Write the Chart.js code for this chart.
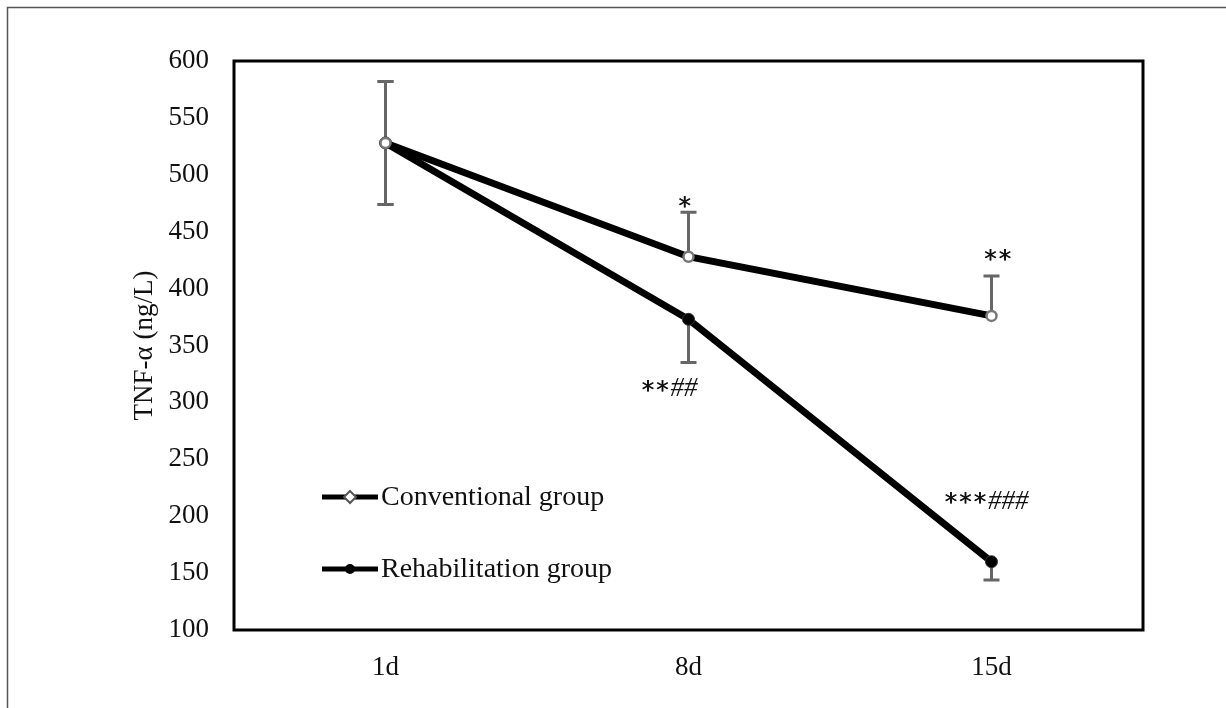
<!DOCTYPE html>
<html>
<head>
<meta charset="utf-8">
<script src="https://cdn.jsdelivr.net/npm/chart.js@4.4.0/dist/chart.umd.min.js"></script>
<style>
  html, body { margin: 0; background: #fff; }
</style>
</head>
<body>
<canvas id="chart" width="1226" height="708"></canvas>
<script>
const days = ['1d', '8d', '15d'];
const yTicks = [100, 150, 200, 250, 300, 350, 400, 450, 500, 550, 600];

const conventional = [528, 428, 376];
const rehabilitation = [528, 373, 160];
const conventionalErr = [54, 39, 35];
const rehabilitationErr = [54, 38, 16];
const conventionalErrDir = ['both', 'up', 'up'];
const rehabilitationErrDir = ['both', 'down', 'down'];
const conventionalMarks = ['', '*', '**'];
const rehabilitationMarks = ['', '**##', '***###'];
const seriesNames = ['Conventional group', 'Rehabilitation group'];

const FONT = '"Liberation Serif", "Times New Roman", serif';

// pixel offsets of the significance marks, relative to the point
const markOffsets = [
  [null, { dx: -4, dy: -51 }, { dx: 6, dy: -57 }],
  [null, { dx: -20, dy: 70 }, { dx: -6, dy: -60 }],
];

const frame = {
  id: 'frame',
  beforeDraw(chart) {
    const c = chart.ctx;
    c.save();
    c.fillStyle = '#fff';
    c.fillRect(0, 0, chart.width, chart.height);
    c.strokeStyle = '#555';
    c.lineWidth = 1.5;
    c.beginPath();
    c.moveTo(7.5, chart.height);
    c.lineTo(7.5, 7.5);
    c.lineTo(chart.width, 7.5);
    c.stroke();
    c.restore();
  },
  afterDraw(chart) {
    const { left, top, right, bottom } = chart.chartArea;
    const c = chart.ctx;
    c.save();
    c.strokeStyle = '#000';
    c.lineWidth = 3;
    c.strokeRect(left, top, right - left, bottom - top);
    c.restore();
  }
};

// draws "***###": asterisks in a sans face, hashes in slanted serif
function drawMark(c, text, cx, cy) {
  const nStars = (text.match(/\*/g) || []).length;
  const hashes = text.replace(/\*/g, '');
  const starPitch = 14.5;
  const starFont = '25px "DejaVu Sans", sans-serif';
  const hashFont = 'italic 27px ' + FONT;
  c.font = hashFont;
  const wh = hashes ? c.measureText(hashes).width : 0;
  const ws = nStars * starPitch;
  let x = cx - (ws + wh) / 2;
  c.textAlign = 'center';
  c.textBaseline = 'middle';
  c.font = starFont;
  for (let i = 0; i < nStars; i++) {
    c.fillText('*', x + starPitch / 2, cy + 2);
    c.fillText('*', x + starPitch / 2 + 0.4, cy + 2);
    x += starPitch;
  }
  if (hashes) {
    c.textAlign = 'left';
    c.font = hashFont;
    c.fillText(hashes, x + 1, cy);
  }
}

const errorBars = {
  id: 'errorBars',
  beforeDatasetsDraw(chart) {
    const c = chart.ctx;
    const x = chart.scales.x, y = chart.scales.y;
    const sets = [
      [conventional, conventionalErr, conventionalErrDir],
      [rehabilitation, rehabilitationErr, rehabilitationErrDir],
    ];
    c.save();
    c.strokeStyle = '#666';
    c.lineWidth = 3;
    sets.forEach(([vals, errs, dirs]) => {
      vals.forEach((v, i) => {
        const px = x.getPixelForValue(i);
        const hi = dirs[i] === 'down' ? v : v + errs[i];
        const lo = dirs[i] === 'up' ? v : v - errs[i];
        const yh = y.getPixelForValue(hi), yl = y.getPixelForValue(lo);
        c.beginPath();
        c.moveTo(px, yh); c.lineTo(px, yl);
        if (dirs[i] !== 'down') { c.moveTo(px - 8, yh); c.lineTo(px + 8, yh); }
        if (dirs[i] !== 'up') { c.moveTo(px - 8, yl); c.lineTo(px + 8, yl); }
        c.stroke();
      });
    });
    c.restore();
  },
  afterDatasetsDraw(chart) {
    const c = chart.ctx;
    const x = chart.scales.x, y = chart.scales.y;
    c.save();
    c.fillStyle = '#111';
    [[conventional, conventionalMarks], [rehabilitation, rehabilitationMarks]].forEach(([vals, marks], s) => {
      marks.forEach((m, i) => {
        if (!m) return;
        const o = markOffsets[s][i];
        drawMark(c, m, x.getPixelForValue(i) + o.dx, y.getPixelForValue(vals[i]) + o.dy);
      });
    });

    // legend inside plot area
    const { left, top } = chart.chartArea;
    const rows = [top + 436, top + 508];
    c.font = '28px ' + FONT;
    c.textAlign = 'left';
    c.textBaseline = 'middle';
    rows.forEach((ry, k) => {
      const lx = left + 88;
      c.strokeStyle = '#000';
      c.lineWidth = 5;
      c.beginPath();
      c.moveTo(lx, ry); c.lineTo(lx + 56, ry);
      c.stroke();
      const mx = lx + 28;
      if (k === 0) {
        c.fillStyle = '#fff';
        c.strokeStyle = '#555';
        c.lineWidth = 2;
        c.beginPath();
        c.moveTo(mx, ry - 6); c.lineTo(mx + 6, ry); c.lineTo(mx, ry + 6); c.lineTo(mx - 6, ry);
        c.closePath();
        c.fill(); c.stroke();
      } else {
        c.fillStyle = '#000';
        c.beginPath();
        c.arc(mx, ry, 5, 0, Math.PI * 2);
        c.fill();
      }
      c.fillStyle = '#111';
      c.fillText(seriesNames[k], lx + 59, ry + 1);
    });
    c.restore();
  }
};

new Chart(document.getElementById('chart').getContext('2d'), {
  type: 'line',
  data: {
    labels: days,
    datasets: [
      {
        label: seriesNames[0],
        data: conventional,
        borderColor: '#000',
        borderWidth: 7,
        pointRadius: 5,
        pointBackgroundColor: '#fff',
        pointBorderColor: '#777',
        pointBorderWidth: 2.5,
        tension: 0,
      },
      {
        label: seriesNames[1],
        data: rehabilitation,
        borderColor: '#000',
        borderWidth: 7,
        pointRadius: 6,
        pointBackgroundColor: '#000',
        pointBorderColor: '#333',
        pointBorderWidth: 1,
        tension: 0,
      },
    ],
  },
  options: {
    responsive: false,
    animation: false,
    layout: { padding: { top: 61, right: 83, left: 0, bottom: 0 } },
    plugins: {
      legend: { display: false },
      tooltip: { enabled: false },
    },
    scales: {
      x: {
        offset: true,
        grid: { display: false, drawTicks: false },
        border: { display: false },
        ticks: { color: '#111', font: { family: FONT, size: 27 }, padding: 22 },
        afterFit(axis) { axis.height = 78; },
      },
      y: {
        min: 100,
        max: 600,
        grid: { display: false, drawTicks: false },
        border: { display: false },
        afterBuildTicks(axis) { axis.ticks = yTicks.map(v => ({ value: v })); },
        ticks: { color: '#111', font: { family: FONT, size: 27 }, padding: 25 },
        title: {
          display: true,
          text: 'TNF-α (ng/L)',
          color: '#111',
          font: { family: FONT, size: 27 },
          padding: { top: 129, bottom: 0 },
        },
        afterFit(axis) { axis.width = 234; },
      },
    },
  },
  plugins: [frame, errorBars],
});
</script>
</body>
</html>
